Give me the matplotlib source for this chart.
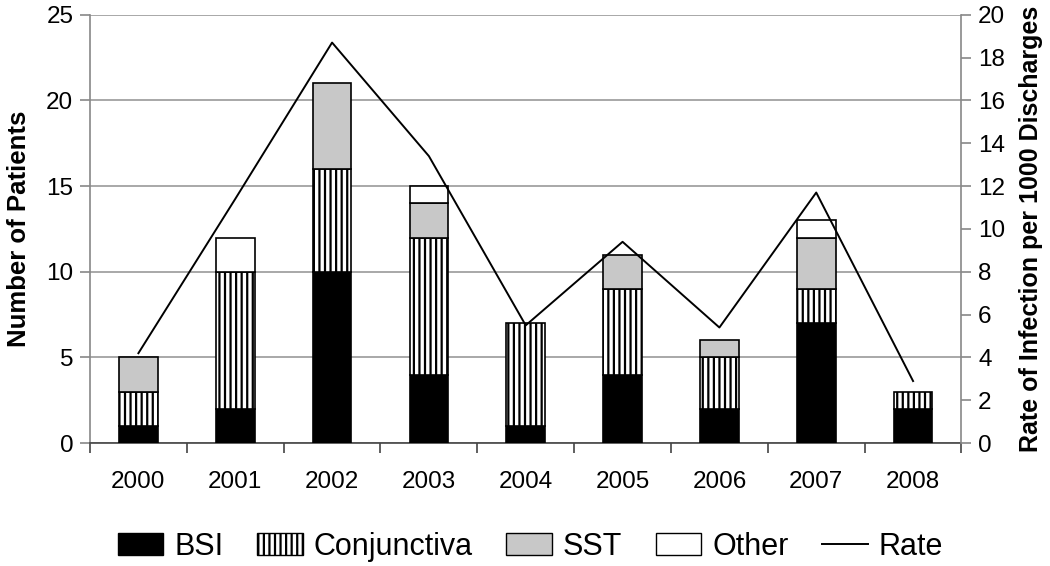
import numpy as np
import matplotlib
matplotlib.use("Agg")
import matplotlib.pyplot as plt
from matplotlib.patches import Patch
from matplotlib.lines import Line2D

years = ["2000", "2001", "2002", "2003", "2004", "2005", "2006", "2007", "2008"]
bsi = [1, 2, 10, 4, 1, 4, 2, 7, 2]
conjunctiva = [2, 8, 6, 8, 6, 5, 3, 2, 1]
sst = [2, 0, 5, 2, 0, 2, 1, 3, 0]
other = [0, 2, 0, 1, 0, 0, 0, 1, 0]
rate = [4.2, 11.4, 18.7, 13.4, 5.5, 9.4, 5.4, 11.7, 2.9]

plt.rcParams['font.family'] = ['Liberation Sans', 'DejaVu Sans']
plt.rcParams['hatch.linewidth'] = 1.6

fig = plt.figure(figsize=(10.5, 5.66), dpi=100)
ax = fig.add_axes([0.0857, 0.217, 0.830, 0.757])
x = np.arange(len(years))
w = 0.4

bottom = np.zeros(len(years))
series = [
    (bsi, dict(color="black")),
    (conjunctiva, dict(color="white", hatch="|||")),
    (sst, dict(color="#c8c8c8")),
    (other, dict(color="white")),
]
for vals, style in series:
    vals = np.array(vals)
    mask = vals > 0
    ax.bar(x[mask], vals[mask], w, bottom=bottom[mask], edgecolor="black",
           linewidth=1.2, zorder=3, **style)
    bottom += vals

ax.set_xlim(-0.5, len(years) - 0.5)
ax.set_ylim(0, 25)
ax.set_yticks(range(0, 26, 5))
ax.set_xticks(x)
ax.set_xticklabels(years)
ax.set_xticks(np.arange(-0.5, len(years)), minor=True)
ax.tick_params(axis="x", which="major", length=0, labelsize=17.5, pad=20)
ax.tick_params(axis="x", which="minor", length=7, color="#444444", width=1.2)
ax.tick_params(axis="y", labelsize=17.5, length=7, color="#888888", width=1.2, pad=5)
ax.grid(axis="y", color="#999999", linewidth=1.2, zorder=0)
for side in ["top", "right"]:
    ax.spines[side].set_visible(False)
ax.spines["left"].set_color("#888888")
ax.spines["left"].set_linewidth(1.2)
ax.spines["bottom"].set_color("#444444")
ax.spines["bottom"].set_linewidth(1.2)
ax.set_ylabel("Number of Patients", fontsize=18.5, fontweight="bold", labelpad=11)

ax2 = ax.twinx()
ax2.plot(x, rate, color="black", linewidth=1.4, zorder=4)
ax2.set_ylim(0, 20)
ax2.set_yticks(range(0, 21, 2))
ax2.tick_params(axis="y", labelsize=17.5, length=7, color="#888888", width=1.2, pad=5)
for side in ["top", "left", "bottom"]:
    ax2.spines[side].set_visible(False)
ax2.spines["right"].set_color("#888888")
ax2.spines["right"].set_linewidth(1.2)
ax2.set_ylabel("Rate of Infection per 1000 Discharges", fontsize=18,
               fontweight="bold", labelpad=10)

handles = [
    Patch(facecolor="black", edgecolor="black", label="BSI"),
    Patch(facecolor="white", edgecolor="black", hatch="|||", label="Conjunctiva"),
    Patch(facecolor="#c8c8c8", edgecolor="black", label="SST"),
    Patch(facecolor="white", edgecolor="black", label="Other"),
    Line2D([0], [0], color="black", linewidth=1.4, label="Rate"),
]
fig.legend(handles=handles, loc="center", bbox_to_anchor=(0.505, 0.034), ncol=5,
           frameon=False, fontsize=22, handlelength=1.5, handleheight=0.75,
           handletextpad=0.35, columnspacing=1.1)

fig.savefig("out.png", dpi=100)
